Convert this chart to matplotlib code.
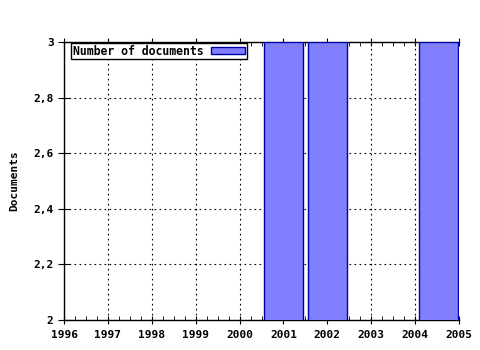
import matplotlib
matplotlib.use("Agg")
import matplotlib.pyplot as plt
from matplotlib.ticker import AutoMinorLocator, FuncFormatter

years = [2001, 2002, 2004.53]
docs = [3, 3, 3]
year_ticks = list(range(1996, 2006))
y_ticks = [2, 2.2, 2.4, 2.6, 2.8, 3]

plt.rcParams['font.family'] = ['DejaVu Sans Mono']
plt.rcParams['font.weight'] = 'bold'
plt.rcParams['font.size'] = 8

fig = plt.figure(figsize=(4.8, 3.5), dpi=100)
ax = fig.add_axes([64 / 480, 30 / 350, 395 / 480, 278 / 350])

ax.bar(years, docs, width=0.88, color='#8080ff', edgecolor='#0000aa',
       linewidth=1, label='Number of documents', zorder=3)

ax.set_xlim(1996, 2005)
ax.set_ylim(2, 3)
ax.set_xticks(year_ticks)
ax.set_yticks(y_ticks)
ax.yaxis.set_major_formatter(FuncFormatter(lambda v, p: f"{v:g}".replace('.', ',')))
ax.xaxis.set_minor_locator(AutoMinorLocator(4))

ax.grid(True, which='major', color='black', linestyle=(0, (1.5, 3)), linewidth=0.8, zorder=0)
ax.set_axisbelow(True)

ax.spines['right'].set_visible(False)
for s in ['left', 'top', 'bottom']:
    ax.spines[s].set_linewidth(1)

ax.tick_params(axis='x', which='major', direction='inout', length=6, top=True, pad=4)
ax.tick_params(axis='x', which='minor', direction='in', length=3, top=True)
ax.tick_params(axis='y', which='major', direction='inout', length=8, right=False)

ax.set_ylabel('Documents', fontweight='bold', labelpad=10)

leg = ax.legend(loc='upper left', bbox_to_anchor=(7 / 395, 1 - 1 / 278),
                markerfirst=False, fancybox=False,
                edgecolor='black', framealpha=1, borderpad=0.15,
                handlelength=2.9, handleheight=0.55, borderaxespad=0,
                handletextpad=0.7, fontsize=8.3)
leg.get_frame().set_linewidth(1)

fig.savefig('out.png', dpi=100)
